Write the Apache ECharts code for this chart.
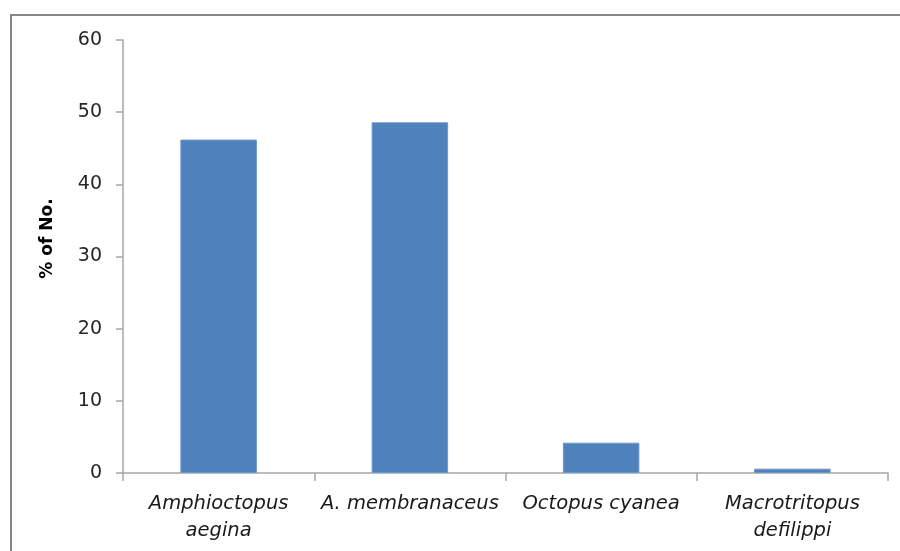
<!DOCTYPE html>
<html>
<head>
<meta charset="utf-8">
<script src="https://cdn.jsdelivr.net/npm/echarts@6/dist/echarts.min.js"></script>
<style>
html,body{margin:0;padding:0;background:#fff;}
#c{width:900px;height:551px;}
</style>
</head>
<body>
<div id="c"></div>
<script>
const categories = ["Amphioctopus\naegina", "A. membranaceus", "Octopus cyanea", "Macrotritopus\ndefilippi"];
const values = [46.2, 48.6, 4.2, 0.6];
const yTicks = [0, 10, 20, 30, 40, 50, 60];
const yName = "% of No.";

const chart = echarts.init(document.getElementById('c'), null, {renderer: 'canvas'});
chart.setOption({
  animation: false,
  backgroundColor: '#fff',
  graphic: [{
    type: 'rect',
    shape: {x: 11, y: 15, width: 1000, height: 1000},
    style: {fill: 'none', stroke: '#878787', lineWidth: 2},
    silent: true
  }],
  grid: {left: 123, right: 12, top: 40, bottom: 78, containLabel: false},
  xAxis: {
    type: 'category',
    data: categories,
    axisLine: {lineStyle: {color: '#a6a6a6', width: 1.5}},
    axisTick: {show: true, alignWithLabel: false, length: 8, lineStyle: {color: '#a6a6a6', width: 1.5}},
    axisLabel: {
      interval: 0,
      margin: 17,
      fontFamily: 'DejaVu Sans',
      fontStyle: 'italic',
      fontSize: 19.5,
      lineHeight: 27,
      color: '#1a1a1a'
    }
  },
  yAxis: {
    type: 'value',
    min: yTicks[0],
    max: yTicks[yTicks.length - 1],
    interval: 10,
    name: yName,
    nameLocation: 'middle',
    nameRotate: 90,
    nameGap: 67,
    nameTextStyle: {fontFamily: 'DejaVu Sans', fontWeight: 'bold', fontSize: 17, color: '#000', padding: [0, 0, 0, 36]},
    axisLine: {show: true, lineStyle: {color: '#a6a6a6', width: 1.5}},
    axisTick: {show: true, length: 7, lineStyle: {color: '#a6a6a6', width: 1.5}},
    splitLine: {show: false},
    axisLabel: {
      margin: 21,
      fontFamily: 'DejaVu Sans',
      fontSize: 19,
      color: '#262626'
    }
  },
  series: [{
    type: 'bar',
    data: values,
    barWidth: '40%',
    itemStyle: {color: '#4f81bd', borderColor: '#6d97c9', borderWidth: 1}
  }]
});
</script>
</body>
</html>
